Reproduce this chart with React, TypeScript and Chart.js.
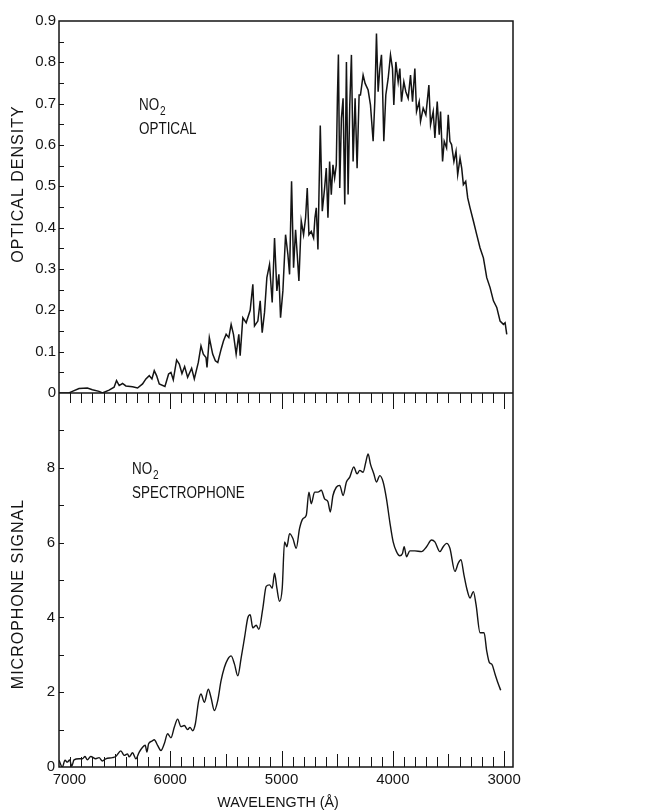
import React, { useEffect, useRef } from 'react';
import { Chart, registerables } from 'chart.js';

Chart.register(...registerables);

// ---------- data ----------
const opticalWavelengths = [
  7000, 6910, 6880, 6820, 6745, 6700, 6640, 6610, 6550, 6505, 6483, 6459, 6429, 6399, 6339, 6294,
  6249, 6219, 6189, 6165, 6144, 6123, 6099, 6048, 6015, 5994, 5973, 5943, 5919, 5895, 5871, 5844,
  5808, 5784, 5748, 5724, 5703, 5679, 5670, 5649, 5619, 5595, 5573, 5543, 5522, 5498, 5474, 5453,
  5432, 5408, 5384, 5372, 5348, 5318, 5282, 5258, 5243, 5213, 5192, 5174, 5153, 5132, 5108, 5084,
  5063, 5042, 5024, 5009, 4988, 4964, 4943, 4928, 4910, 4892, 4874, 4859, 4844, 4823, 4802, 4784,
  4769, 4754, 4733, 4712, 4700, 4688, 4673, 4652, 4634, 4613, 4598, 4583, 4568, 4553, 4538, 4523,
  4508, 4498, 4489, 4477, 4462, 4447, 4432, 4417, 4402, 4387, 4372, 4357, 4339, 4321, 4303, 4291,
  4267, 4249, 4222, 4201, 4177, 4162, 4147, 4132, 4117, 4102, 4093, 4081, 4063, 4042, 4021, 4003,
  3991, 3973, 3952, 3937, 3922, 3901, 3883, 3862, 3841, 3823, 3802, 3787, 3763, 3751, 3727, 3703,
  3676, 3661, 3637, 3622, 3601, 3583, 3571, 3553, 3538, 3517, 3502, 3487, 3472, 3451, 3432, 3417,
  3396, 3381, 3366, 3345, 3327, 3306, 3276, 3246, 3216, 3186, 3156, 3126, 3096, 3066, 3036, 3006,
  2991, 2976,
];
const opticalDensity = [
  0.0, 0.0, 0.004, 0.011, 0.012, 0.008, 0.004, 0.0, 0.007, 0.014, 0.03, 0.018, 0.023, 0.017, 0.015, 0.012,
  0.022, 0.034, 0.042, 0.034, 0.054, 0.042, 0.022, 0.016, 0.046, 0.05, 0.032, 0.08, 0.07, 0.047, 0.064, 0.038,
  0.06, 0.034, 0.074, 0.114, 0.094, 0.086, 0.062, 0.134, 0.094, 0.078, 0.074, 0.106, 0.126, 0.142, 0.134, 0.166,
  0.142, 0.094, 0.142, 0.09, 0.182, 0.17, 0.2, 0.263, 0.162, 0.174, 0.223, 0.146, 0.195, 0.279, 0.311, 0.219,
  0.375, 0.247, 0.287, 0.182, 0.247, 0.383, 0.335, 0.287, 0.512, 0.303, 0.395, 0.335, 0.271, 0.416, 0.383, 0.424,
  0.496, 0.383, 0.391, 0.375, 0.424, 0.448, 0.347, 0.647, 0.44, 0.496, 0.544, 0.424, 0.56, 0.48, 0.552, 0.52,
  0.552, 0.713, 0.819, 0.496, 0.665, 0.713, 0.456, 0.801, 0.48, 0.697, 0.818, 0.56, 0.713, 0.544, 0.721, 0.721,
  0.769, 0.749, 0.733, 0.697, 0.609, 0.705, 0.87, 0.729, 0.785, 0.818, 0.745, 0.609, 0.721, 0.761, 0.818, 0.785,
  0.697, 0.801, 0.753, 0.785, 0.705, 0.753, 0.729, 0.713, 0.769, 0.705, 0.785, 0.681, 0.705, 0.657, 0.689, 0.673,
  0.745, 0.649, 0.681, 0.617, 0.705, 0.625, 0.681, 0.56, 0.609, 0.593, 0.673, 0.609, 0.601, 0.56, 0.585, 0.528,
  0.568, 0.544, 0.504, 0.512, 0.472, 0.448, 0.416, 0.383, 0.351, 0.327, 0.279, 0.255, 0.223, 0.207, 0.174, 0.166,
  0.17, 0.142,
];

const spectroWavelengths = [
  7000, 6970, 6946, 6925, 6904, 6886, 6865, 6820, 6790, 6766, 6745, 6715, 6670, 6640, 6610, 6580,
  6520, 6490, 6444, 6414, 6384, 6369, 6339, 6309, 6279, 6249, 6225, 6210, 6195, 6165, 6144, 6114,
  6084, 6054, 6024, 5994, 5964, 5934, 5904, 5874, 5844, 5823, 5799, 5775, 5745, 5724, 5694, 5658,
  5634, 5604, 5574, 5544, 5514, 5484, 5453, 5423, 5393, 5363, 5333, 5303, 5282, 5258, 5228, 5204,
  5168, 5138, 5108, 5084, 5063, 5042, 5018, 4994, 4973, 4952, 4928, 4898, 4868, 4838, 4808, 4778,
  4754, 4733, 4703, 4673, 4643, 4613, 4583, 4562, 4538, 4508, 4477, 4447, 4417, 4387, 4351, 4321,
  4297, 4267, 4243, 4222, 4201, 4171, 4147, 4117, 4087, 4057, 4027, 3997, 3967, 3937, 3913, 3898,
  3877, 3847, 3802, 3742, 3697, 3652, 3622, 3577, 3547, 3517, 3487, 3442, 3412, 3388, 3361, 3336,
  3306, 3276, 3252, 3216, 3180, 3156, 3132, 3111, 3081, 3051, 3030,
];
const microphoneSignal = [
  0.18, 0.0, 0.18, 0.13, 0.19, 0.02, 0.19, 0.22, 0.22, 0.28, 0.19, 0.28, 0.22, 0.25, 0.16, 0.22,
  0.25, 0.28, 0.43, 0.31, 0.35, 0.27, 0.38, 0.22, 0.4, 0.53, 0.58, 0.4, 0.62, 0.69, 0.73, 0.58,
  0.44, 0.62, 0.89, 0.78, 1.06, 1.28, 1.08, 1.11, 1.0, 1.06, 0.97, 1.15, 1.77, 1.95, 1.73, 2.08,
  1.86, 1.51, 1.77, 2.3, 2.66, 2.88, 2.97, 2.75, 2.44, 2.92, 3.45, 3.99, 4.07, 3.72, 3.79, 3.68,
  4.25, 4.83, 4.87, 4.78, 5.18, 4.78, 4.43, 4.78, 6.02, 5.89, 6.24, 6.11, 5.85, 6.38, 6.64, 6.73,
  7.35, 7.04, 7.35, 7.35, 7.4, 7.17, 7.09, 6.82, 7.26, 7.48, 7.53, 7.26, 7.62, 7.75, 8.02, 7.84,
  7.93, 7.88, 8.15, 8.37, 8.1, 7.84, 7.62, 7.79, 7.62, 7.17, 6.55, 6.02, 5.76, 5.65, 5.71, 5.89,
  5.62, 5.78, 5.78, 5.76, 5.89, 6.07, 6.02, 5.76, 5.89, 5.98, 5.85, 5.23, 5.45, 5.54, 5.14, 4.78,
  4.52, 4.69, 4.34, 3.59, 3.59, 3.1, 2.79, 2.75, 2.48, 2.21, 2.05,
];

const wavelengthTicks = [7000, 6000, 5000, 4000, 3000];
const densityTicks = [0, 0.1, 0.2, 0.3, 0.4, 0.5, 0.6, 0.7, 0.8, 0.9];
const signalTicks = [0, 2, 4, 6, 8];

const FONT = '"Liberation Sans", Arial, sans-serif';
const INK = '#141414';

// ---------- decorations (frame, inward ticks, titles, annotations) ----------
const framePlugin = {
  id: 'framePlugin',
  afterDraw(chart: any) {
    const ctx = chart.ctx as CanvasRenderingContext2D;
    const anyCtx = ctx as any;
    const xs = chart.scales.x;
    const yT = chart.scales.yOD;
    const yB = chart.scales.yMic;
    const L = xs.left;
    const R = xs.right;
    const T = yT.top;
    const M = yT.bottom;
    const B = yB.bottom;
    ctx.save();
    ctx.strokeStyle = INK;
    ctx.lineWidth = 1.5;
    ctx.beginPath();
    ctx.rect(L, T, R - L, B - T);
    ctx.moveTo(L, M);
    ctx.lineTo(R, M);
    ctx.stroke();

    ctx.lineWidth = 1;
    ctx.beginPath();
    for (let w = 6900; w >= 3000; w -= 100) {
      const px = Math.round(xs.getPixelForValue(w)) + 0.5;
      const major = w % 1000 === 0;
      const half = w % 500 === 0;
      ctx.moveTo(px, M);
      ctx.lineTo(px, M + (major ? 16 : 10));
      ctx.moveTo(px, B);
      ctx.lineTo(px, B - (major ? 16 : half ? 13 : 10));
    }
    for (let i = 1; i < 18; i++) {
      const py = Math.round(yT.getPixelForValue(i * 0.05)) + 0.5;
      ctx.moveTo(L, py);
      ctx.lineTo(L + 5, py);
    }
    for (let i = 1; i < 10; i++) {
      const py = Math.round(yB.getPixelForValue(i)) + 0.5;
      ctx.moveTo(L, py);
      ctx.lineTo(L + 5, py);
    }
    ctx.stroke();

    ctx.fillStyle = INK;
    // axis titles
    anyCtx.letterSpacing = '1px';
    ctx.font = `16px ${FONT}`;
    ctx.textAlign = 'center';
    ctx.textBaseline = 'middle';
    ctx.save();
    ctx.translate(11, T + 163);
    ctx.rotate(-Math.PI / 2);
    ctx.fillText('OPTICAL DENSITY', 0, 0);
    ctx.restore();
    ctx.save();
    ctx.translate(11, M + 201);
    ctx.rotate(-Math.PI / 2);
    ctx.fillText('MICROPHONE SIGNAL', 0, 0);
    ctx.restore();
    anyCtx.letterSpacing = '0px';
    ctx.font = `14.3px ${FONT}`;
    ctx.fillText('WAVELENGTH (Å)', L + 219, B + 36);

    // annotations (tall, narrow lettering)
    ctx.textAlign = 'left';
    ctx.textBaseline = 'alphabetic';
    const label = (x: number, y: number, lines: string[]) => {
      ctx.save();
      ctx.translate(x, y);
      ctx.scale(0.84, 1);
      ctx.font = `16px ${FONT}`;
      ctx.fillText('NO', 0, 0);
      const w = ctx.measureText('NO').width;
      ctx.font = `12px ${FONT}`;
      ctx.fillText('2', w + 1, 5);
      ctx.font = `16px ${FONT}`;
      lines.forEach((t, i) => ctx.fillText(t, 0, 24 * (i + 1)));
      ctx.restore();
    };
    label(L + 80, T + 89, ['OPTICAL']);
    label(L + 73, M + 81, ['SPECTROPHONE']);
    ctx.restore();
  },
};

export default function App() {
  const canvasRef = useRef<HTMLCanvasElement>(null);

  useEffect(() => {
    const canvas = canvasRef.current;
    if (!canvas) return;
    const chart = new Chart(canvas, {
      type: 'line',
      data: {
        datasets: [
          {
            label: 'NO2 optical',
            data: opticalWavelengths.map((w, i) => ({ x: w, y: opticalDensity[i] })),
            yAxisID: 'yOD',
            borderColor: INK,
            borderWidth: 1.5,
            pointRadius: 0,
            tension: 0,
          },
          {
            label: 'NO2 spectrophone',
            data: spectroWavelengths.map((w, i) => ({ x: w, y: microphoneSignal[i] })),
            yAxisID: 'yMic',
            borderColor: INK,
            borderWidth: 1.4,
            pointRadius: 0,
            cubicInterpolationMode: 'monotone',
          },
        ],
      },
      options: {
        responsive: false,
        animation: false,
        events: [],
        layout: { padding: { top: 11, right: 127, left: 0, bottom: 0 } },
        plugins: { legend: { display: false }, tooltip: { enabled: false } },
        scales: {
          x: {
            type: 'linear',
            reverse: true,
            min: 2920,
            max: 7000,
            grid: { display: false, drawTicks: false },
            border: { display: false },
            afterBuildTicks: (s: any) => {
              s.ticks = wavelengthTicks.map((v) => ({ value: v }));
            },
            afterFit: (s: any) => {
              s.height = 45;
            },
            ticks: {
              autoSkip: false,
              maxRotation: 0,
              padding: 4,
              color: INK,
              font: { family: FONT, size: 15 },
              callback: (v: any) => (Number(v) === 7000 ? '     7000' : String(v)),
            },
          },
          yMic: {
            type: 'linear',
            position: 'left',
            stack: 'panels',
            stackWeight: 375,
            weight: 1,
            min: 0,
            max: 10,
            grid: { display: false, drawTicks: false },
            border: { display: false },
            afterBuildTicks: (s: any) => {
              s.ticks = signalTicks.map((v) => ({ value: v }));
            },
            afterFit: (s: any) => {
              s.width = 51;
            },
            ticks: {
              padding: 4,
              color: INK,
              font: { family: FONT, size: 15 },
              callback: (v: any) => String(v),
            },
          },
          yOD: {
            type: 'linear',
            position: 'left',
            stack: 'panels',
            stackWeight: 373,
            weight: 2,
            min: 0,
            max: 0.9,
            grid: { display: false, drawTicks: false },
            border: { display: false },
            afterBuildTicks: (s: any) => {
              s.ticks = densityTicks.map((v) => ({ value: v }));
            },
            afterFit: (s: any) => {
              s.width = 51;
            },
            ticks: {
              padding: 3,
              color: INK,
              font: { family: FONT, size: 15 },
              callback: (v: any) => (Number(v) === 0 ? '0' : Number(v).toFixed(1)),
            },
          },
        },
      } as any,
      plugins: [framePlugin],
    });
    return () => chart.destroy();
  }, []);

  return (
    <div style={{ width: 632, height: 804 }}>
      <canvas ref={canvasRef} width={632} height={804} style={{ display: 'block' }} />
    </div>
  );
}
